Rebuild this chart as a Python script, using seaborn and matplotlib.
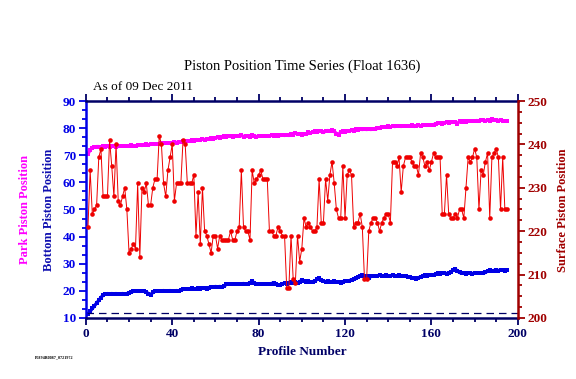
import numpy as np
import pandas as pd
import matplotlib
matplotlib.use("Agg")
import matplotlib.pyplot as plt
import seaborn as sns
from matplotlib.ticker import MultipleLocator, AutoMinorLocator

# Park piston position (left axis)
park = [70.5, 72.0, 72.8, 73.0, 73.2, 73.2, 73.0, 73.3, 73.2, 73.3,
        73.2, 73.4, 73.3, 73.0, 73.4, 73.3, 73.5, 73.4, 73.3, 73.5,
        73.6, 73.5, 73.4, 73.6, 73.8, 73.6, 73.8, 74.0, 73.9, 74.0,
        74.1, 74.0, 74.2, 74.3, 74.6, 74.4, 74.5, 74.6, 74.5, 74.6,
        74.8, 74.7, 75.0, 74.8, 75.2, 75.0, 75.4, 75.3, 75.6, 75.4,
        75.8, 75.6, 75.7, 75.9, 75.8, 76.0, 75.9, 76.2, 76.0, 76.4,
        76.6, 76.3, 76.8, 77.0, 76.8, 77.0, 77.1, 76.9, 77.1, 77.0,
        77.1, 77.3, 76.9, 77.2, 77.1, 76.9, 77.3, 77.1, 76.8, 77.2,
        77.0, 77.1, 77.2, 77.1, 77.2, 77.3, 77.2, 77.3, 77.2, 77.3,
        77.4, 77.3, 77.5, 77.3, 77.8, 77.6, 78.2, 77.8, 78.0, 77.6,
        78.0, 77.8, 78.4, 78.2, 78.6, 78.8, 78.5, 79.0, 78.8, 78.4,
        78.9, 79.1, 79.0, 79.3, 78.8, 78.0, 77.6, 78.6, 79.0, 78.6,
        78.9, 79.0, 79.2, 79.0, 79.5, 79.4, 79.6, 79.5, 79.6, 79.5,
        79.6, 79.5, 79.7, 79.6, 79.9, 80.2, 80.4, 80.5, 80.4, 80.6,
        80.5, 80.7, 80.6, 80.7, 80.8, 80.6, 80.9, 80.7, 80.9, 80.8,
        81.0, 80.6, 80.8, 81.0, 80.8, 81.1, 81.2, 81.0, 81.3, 81.1,
        81.3, 81.6, 81.8, 82.0, 81.7, 81.9, 82.2, 82.0, 82.3, 82.1,
        82.4, 81.6, 82.5, 82.3, 82.6, 82.4, 82.6, 82.5, 82.7, 82.6,
        82.8, 82.6, 82.9, 83.1, 82.7, 83.0, 82.8, 83.2, 82.9, 83.0,
        82.8, 83.1, 82.7, 82.6, 82.5]

# Bottom piston position (left axis)
bottom = [11.5, 12.5, 13.5, 14.5, 15.5, 16.5, 17.5, 18.5, 18.8, 19.0,
          18.8, 19.0, 18.9, 19.0, 18.8, 18.9, 19.0, 18.9, 19.0, 19.2,
          19.6, 19.8, 19.9, 20.0, 19.8, 20.0, 19.9, 19.5, 19.0, 18.6,
          19.4, 19.8, 20.0, 19.9, 20.0, 20.1, 19.9, 20.0, 20.1, 20.0,
          20.0, 20.1, 20.0, 20.2, 20.6, 20.8, 20.7, 20.8, 20.9, 20.8,
          20.7, 20.9, 20.8, 21.0, 20.9, 20.8, 21.2, 21.5, 21.4, 21.6,
          21.5, 21.6, 21.5, 21.7, 22.4, 22.6, 22.5, 22.6, 22.4, 22.6,
          22.5, 22.6, 22.7, 22.5, 22.6, 23.0, 23.6, 22.9, 22.6, 22.5,
          22.6, 22.5, 22.6, 22.4, 22.6, 22.7, 23.0, 22.6, 22.2, 22.0,
          22.6, 22.8, 22.7, 23.0, 23.2, 23.0, 23.1, 23.0, 23.4, 23.9,
          23.6, 23.3, 23.5, 23.2, 23.4, 23.6, 24.2, 24.6, 24.0, 23.6,
          23.4, 23.6, 23.2, 23.4, 23.5, 23.3, 23.2, 23.0, 23.4, 23.6,
          23.5, 23.8, 24.0, 24.2, 24.6, 25.0, 25.6, 25.8, 25.4, 25.6,
          24.8, 25.3, 25.6, 25.5, 25.6, 25.7, 25.6, 25.5, 25.7, 25.6,
          25.6, 25.7, 25.5, 25.6, 25.7, 25.5, 25.6, 25.4, 25.2, 25.0,
          24.8, 24.6, 24.3, 24.8, 25.2, 25.4, 25.8, 25.4, 25.8, 26.0,
          25.8, 26.3, 26.5, 26.4, 26.6, 26.5, 26.4, 26.6, 27.0, 27.6,
          28.0, 27.4, 26.8, 26.5, 26.6, 26.4, 26.5, 26.6, 26.4, 26.5,
          26.6, 26.5, 26.7, 26.6, 26.8, 27.3, 27.6, 27.4, 27.5, 27.6,
          27.5, 27.7, 27.6, 27.4, 27.6]

# Surface piston position (right axis)
surface = [221, 234, 224, 225, 226, 237, 239, 228, 228, 228,
           241, 235, 228, 240, 227, 226, 228, 230, 225, 215,
           216, 217, 216, 231, 214, 230, 229, 231, 226, 226,
           230, 232, 232, 242, 240, 231, 228, 234, 237, 240,
           227, 231, 231, 231, 241, 240, 231, 231, 231, 233,
           219, 229, 217, 230, 220, 219, 217, 215, 219, 219,
           216, 219, 218, 218, 218, 218, 220, 218, 218, 220,
           221, 234, 221, 220, 220, 218, 234, 231, 232, 233,
           234, 232, 232, 232, 220, 220, 219, 219, 221, 220,
           219, 219, 207, 207, 219, 209, 208, 219, 213, 216,
           223, 221, 222, 221, 220, 220, 221, 232, 222, 222,
           232, 227, 233, 236, 231, 225, 223, 223, 235, 223,
           233, 234, 233, 221, 222, 222, 224, 221, 209, 209,
           220, 222, 223, 223, 222, 220, 222, 223, 224, 224,
           222, 236, 236, 235, 237, 229, 235, 237, 237, 237,
           236, 235, 235, 233, 238, 237, 235, 236, 234, 236,
           238, 237, 237, 237, 224, 224, 233, 224, 223, 223,
           224, 223, 225, 225, 223, 230, 237, 236, 237, 239,
           237, 225, 234, 233, 236, 238, 223, 237, 238, 239,
           237, 225, 237, 225, 225]

profile = np.arange(1, len(park) + 1)
park_limit = 12

navy = '#000066'
blue = '#0000E6'
magenta = '#FF00FF'
red = '#EE0000'
darkred = '#A00000'

sns.set_style("white")
plt.rcParams['font.family'] = ['Liberation Serif', 'DejaVu Serif']

df = pd.DataFrame({'profile': profile, 'park': park,
                   'bottom': bottom, 'surface': surface})

fig = plt.figure(figsize=(5.76, 3.79), dpi=100)
ax = fig.add_axes([0.149, 0.161, 0.75, 0.5725])
ax2 = ax.twinx()

sns.lineplot(data=df, x='profile', y='park', ax=ax, color=magenta,
             marker='s', markersize=3, markeredgewidth=0, linewidth=2.4)
sns.lineplot(data=df, x='profile', y='bottom', ax=ax, color=blue,
             marker='s', markersize=3, markeredgewidth=0, linewidth=2.4)
ax.axhline(park_limit, color=navy, linestyle=(0, (6, 4)), linewidth=0.9)
sns.lineplot(data=df, x='profile', y='surface', ax=ax2, color=red,
             marker='o', markersize=3.3, markeredgewidth=0, linewidth=0.7)

ax.set_xlim(0, 200)
ax.set_ylim(10, 90)
ax2.set_ylim(200, 250)
ax.set_xlabel('')
ax.set_ylabel('')
ax2.set_ylabel('')

ax.xaxis.set_major_locator(MultipleLocator(40))
ax.xaxis.set_minor_locator(MultipleLocator(10))
ax.yaxis.set_major_locator(MultipleLocator(10))
ax.yaxis.set_minor_locator(AutoMinorLocator(3))
ax2.yaxis.set_major_locator(MultipleLocator(10))
ax2.yaxis.set_minor_locator(AutoMinorLocator(4))

ax.tick_params(axis='x', which='both', top=True, bottom=True, direction='out',
               colors=navy, labelsize=9.5, width=1.3, pad=2)
ax.tick_params(axis='x', which='major', length=5)
ax.tick_params(axis='x', which='minor', length=3)
ax.tick_params(axis='y', which='both', left=True, direction='out',
               colors=blue, labelsize=9.5, width=1.3, pad=2)
ax.tick_params(axis='y', which='major', length=5)
ax.tick_params(axis='y', which='minor', length=3)
ax2.tick_params(axis='y', which='both', right=True, direction='out',
                colors=darkred, labelsize=9.5, width=1.3, pad=2)
ax2.tick_params(axis='y', which='major', length=5)
ax2.tick_params(axis='y', which='minor', length=3)
for lab in ax.get_xticklabels() + ax.get_yticklabels() + ax2.get_yticklabels():
    lab.set_fontweight('bold')

for side in ['top', 'bottom']:
    ax.spines[side].set_color(navy)
    ax.spines[side].set_linewidth(1.8)
ax.spines['left'].set_color(blue)
ax.spines['left'].set_linewidth(1.8)
ax.spines['right'].set_visible(False)
for side in ['top', 'bottom', 'left']:
    ax2.spines[side].set_visible(False)
ax2.spines['right'].set_color(darkred)
ax2.spines['right'].set_linewidth(1.8)

fig.text(0.524, 0.826, 'Piston Position Time Series (Float 1636)',
         ha='center', va='center', fontsize=10.5, color='black')
fig.text(0.161, 0.770, 'As of 09 Dec 2011', ha='left', va='center',
         fontsize=9.5, color='black')
fig.text(0.524, 0.071, 'Profile Number', ha='center', va='center',
         fontsize=9.5, fontweight='bold', color=navy)
fig.text(0.043, 0.446, 'Park Piston Position', rotation=90, ha='center',
         va='center', fontsize=9, fontweight='bold', color=magenta)
fig.text(0.085, 0.446, 'Bottom Piston Position', rotation=90, ha='center',
         va='center', fontsize=9, fontweight='bold', color='#1010B0')
fig.text(0.977, 0.446, 'Surface Piston Position', rotation=90, ha='center',
         va='center', fontsize=9, fontweight='bold', color=darkred)
fig.text(0.061, 0.058, 'F5894R0087_0721972', ha='left', va='center',
         fontsize=3, fontweight='bold', color='black')

fig.savefig('out.png', dpi=100)
